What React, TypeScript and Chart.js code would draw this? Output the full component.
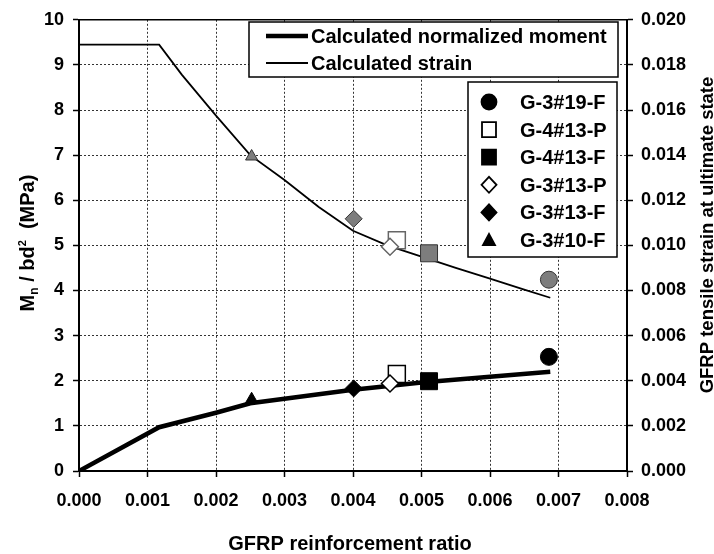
import React, { useEffect, useRef } from 'react';
import { Chart, registerables } from 'chart.js';

Chart.register(...registerables);

const FONT = '"Liberation Sans", Arial, Helvetica, sans-serif';

// Calculated curves (x = GFRP reinforcement ratio)
const momentRatio = [0, 0.00117, 0.002, 0.0025, 0.003, 0.004, 0.005, 0.006, 0.00688];
const momentValue = [0, 0.97, 1.29, 1.5, 1.6, 1.8, 1.96, 2.09, 2.2];
const strainRatio = [0, 0.00117, 0.0015, 0.002, 0.0025, 0.003, 0.0035, 0.004, 0.0045, 0.005, 0.0055, 0.006, 0.0065, 0.00688];
const strainValue = [0.0189, 0.0189, 0.01757, 0.01575, 0.014, 0.0129, 0.0117, 0.01065, 0.0100, 0.0095, 0.009, 0.00853, 0.00804, 0.00768];

// Test specimens
const specimenLabels = ['G-3#19-F', 'G-4#13-P', 'G-4#13-F', 'G-3#13-P', 'G-3#13-F', 'G-3#10-F'];
const specimenRatio = [0.00686, 0.00464, 0.00511, 0.00454, 0.00401, 0.00252];
const specimenMoment = [2.53, 2.15, 1.99, 1.94, 1.83, 1.59];
const specimenStrain = [0.00848, 0.01023, 0.00965, 0.00994, 0.01118, 0.01394];

const curveLabels = ['Calculated normalized moment', 'Calculated strain'];
const xTitle = 'GFRP reinforcement ratio';
const y2Title = 'GFRP tensile strain at ultimate state';

// marker styling (not data)
const markerShapes = ['circle', 'rect', 'rect', 'rectRot', 'rectRot', 'triangle'];
const markerFilled = [true, false, true, false, true, true];
const markerRadius = [8.5, 12, 12, 8.5, 8.5, 7];
const markerOrder = [3, 2, 3, 1, 3, 3];

function legendMarker(ctx: CanvasRenderingContext2D, shape: string, filled: boolean, x: number, y: number) {
  ctx.save();
  ctx.beginPath();
  if (shape === 'circle') {
    ctx.arc(x, y, 7.5, 0, Math.PI * 2);
  } else if (shape === 'rect') {
    ctx.rect(x - 7, y - 7.5, 14, 15);
  } else if (shape === 'rectRot') {
    ctx.moveTo(x - 7.5, y);
    ctx.lineTo(x, y - 8);
    ctx.lineTo(x + 7.5, y);
    ctx.lineTo(x, y + 8);
    ctx.closePath();
  } else {
    ctx.moveTo(x, y - 6);
    ctx.lineTo(x + 6, y + 5);
    ctx.lineTo(x - 6, y + 5);
    ctx.closePath();
  }
  ctx.fillStyle = filled ? '#000' : '#fff';
  ctx.fill();
  ctx.lineWidth = 1.8;
  ctx.strokeStyle = '#000';
  ctx.stroke();
  ctx.restore();
}

const decorPlugin = {
  id: 'decor',
  afterDraw(chart: any) {
    const ctx: CanvasRenderingContext2D = chart.ctx;
    const a = chart.chartArea;
    ctx.save();
    // top frame line
    ctx.strokeStyle = '#000';
    ctx.lineWidth = 1.5;
    ctx.beginPath();
    ctx.moveTo(a.left, a.top);
    ctx.lineTo(a.right, a.top);
    ctx.stroke();

    // Legend 1 (calculated curves)
    ctx.fillStyle = '#fff';
    ctx.fillRect(249, 22, 369, 55);
    ctx.lineWidth = 1.5;
    ctx.strokeStyle = '#000';
    ctx.strokeRect(249, 22, 369, 55);
    const rows1 = [36, 63];
    rows1.forEach((yy, i) => {
      ctx.beginPath();
      ctx.lineWidth = i === 0 ? 4.5 : 1.8;
      ctx.moveTo(266, yy);
      ctx.lineTo(308, yy);
      ctx.stroke();
      ctx.fillStyle = '#000';
      ctx.font = `bold 20px ${FONT}`;
      ctx.textBaseline = 'alphabetic';
      ctx.textAlign = 'left';
      ctx.fillText(curveLabels[i], 311, yy + 7);
    });

    // Legend 2 (specimens)
    ctx.fillStyle = '#fff';
    ctx.fillRect(468, 82, 149, 175);
    ctx.lineWidth = 1.5;
    ctx.strokeStyle = '#000';
    ctx.strokeRect(468, 82, 149, 175);
    specimenLabels.forEach((lab, i) => {
      const yy = 102 + i * 27.6;
      legendMarker(ctx, markerShapes[i], markerFilled[i], 489, yy);
      ctx.fillStyle = '#000';
      ctx.font = `bold 20px ${FONT}`;
      ctx.textAlign = 'left';
      ctx.textBaseline = 'alphabetic';
      ctx.fillText(lab, 520, yy + 7);
    });

    // X title
    ctx.font = `bold 20px ${FONT}`;
    ctx.textAlign = 'center';
    ctx.textBaseline = 'alphabetic';
    ctx.fillStyle = '#000';
    ctx.fillText(xTitle, 350, 550);

    // Right title
    ctx.save();
    ctx.translate(706, 235);
    ctx.rotate(-Math.PI / 2);
    ctx.font = `bold 18.5px ${FONT}`;
    ctx.textAlign = 'center';
    ctx.fillText(y2Title, 0, 6.5);
    ctx.restore();

    // Left title: Mn / bd2 (MPa)
    ctx.save();
    ctx.translate(27, 243);
    ctx.rotate(-Math.PI / 2);
    const parts = [
      { t: 'M', s: 20, dy: 0 },
      { t: 'n', s: 12, dy: 4 },
      { t: ' / bd', s: 20, dy: 0 },
      { t: '2', s: 11, dy: -8 },
      { t: '  (MPa)', s: 20, dy: 0 },
    ];
    let total = 0;
    parts.forEach((p) => {
      ctx.font = `bold ${p.s}px ${FONT}`;
      total += ctx.measureText(p.t).width;
    });
    let x = -total / 2;
    ctx.textAlign = 'left';
    parts.forEach((p) => {
      ctx.font = `bold ${p.s}px ${FONT}`;
      ctx.fillText(p.t, x, 7 + p.dy);
      x += ctx.measureText(p.t).width;
    });
    ctx.restore();

    ctx.restore();
  },
};

export default function App() {
  const ref = useRef<HTMLCanvasElement>(null);
  useEffect(() => {
    if (!ref.current) return;
    const datasets: any[] = [
      {
        type: 'scatter',
        label: curveLabels[0],
        data: momentRatio.map((x, i) => ({ x, y: momentValue[i] })),
        yAxisID: 'y',
        showLine: true,
        borderColor: '#000',
        borderWidth: 4.5,
        pointRadius: 0,
        tension: 0,
        order: 10,
      },
      {
        type: 'scatter',
        label: curveLabels[1],
        data: strainRatio.map((x, i) => ({ x, y: strainValue[i] })),
        yAxisID: 'y2',
        showLine: true,
        borderColor: '#000',
        borderWidth: 1.8,
        pointRadius: 0,
        tension: 0,
        order: 10,
      },
      ...specimenLabels.map((lab, i) => ({
        type: 'scatter',
        label: lab,
        data: [{ x: specimenRatio[i], y: specimenMoment[i] }],
        yAxisID: 'y',
        pointStyle: markerShapes[i],
        pointRadius: markerRadius[i],
        backgroundColor: markerFilled[i] ? '#000' : '#fff',
        borderColor: '#000',
        borderWidth: markerFilled[i] ? 1 : 1.5,
        order: markerOrder[i],
      })),
      ...specimenLabels.map((lab, i) => ({
        type: 'scatter',
        label: lab + ' strain',
        data: [{ x: specimenRatio[i], y: specimenStrain[i] }],
        yAxisID: 'y2',
        pointStyle: markerShapes[i],
        pointRadius: markerRadius[i],
        backgroundColor: markerFilled[i] ? '#7d7d7d' : '#fff',
        borderColor: markerFilled[i] ? '#333' : '#666',
        borderWidth: markerFilled[i] ? 1 : 1.5,
        order: markerOrder[i],
      })),
    ];

    const tickFont = { family: FONT, size: 18, weight: 'bold' as const };
    const gridStyle = { color: '#333', lineWidth: 1, tickColor: '#000', tickLength: 6, tickWidth: 1.5 };
    const gridBorder = { display: true, color: '#000', width: 2, dash: [2, 2] };
    const chart = new Chart(ref.current, {
      type: 'scatter',
      data: { datasets },
      options: {
        responsive: false,
        animation: false,
        devicePixelRatio: 1,
        layout: { padding: { top: 13, left: 0, right: 0, bottom: 0 } },
        plugins: { legend: { display: false }, tooltip: { enabled: false } },
        scales: {
          x: {
            type: 'linear',
            min: 0,
            max: 0.008,
            ticks: {
              stepSize: 0.001,
              callback: (v: any) => Number(v).toFixed(3),
              font: tickFont,
              color: '#000',
              padding: 13,
              maxRotation: 0,
              autoSkip: false,
            },
            grid: gridStyle,
            border: gridBorder,
            afterFit: (s: any) => {
              s.height = 83;
            },
          },
          y: {
            type: 'linear',
            position: 'left',
            min: 0,
            max: 10,
            ticks: { stepSize: 1, font: tickFont, color: '#000', padding: 9 },
            grid: gridStyle,
            border: gridBorder,
            afterFit: (s: any) => {
              s.width = 79;
            },
          },
          y2: {
            type: 'linear',
            position: 'right',
            min: 0,
            max: 0.02,
            ticks: {
              stepSize: 0.002,
              callback: (v: any) => Number(v).toFixed(3),
              font: tickFont,
              color: '#000',
              padding: 8,
            },
            grid: { drawOnChartArea: false, tickColor: '#000', tickLength: 6, tickWidth: 1.5 },
            border: { display: true, color: '#000', width: 2 },
            afterFit: (s: any) => {
              s.width = 87;
            },
          },
        },
      },
      plugins: [decorPlugin],
    } as any);
    return () => chart.destroy();
  }, []);

  return (
    <div style={{ position: 'absolute', left: 0, top: 0, width: 714, height: 554, background: '#fff' }}>
      <canvas ref={ref} width={714} height={554} style={{ display: 'block' }} />
    </div>
  );
}
